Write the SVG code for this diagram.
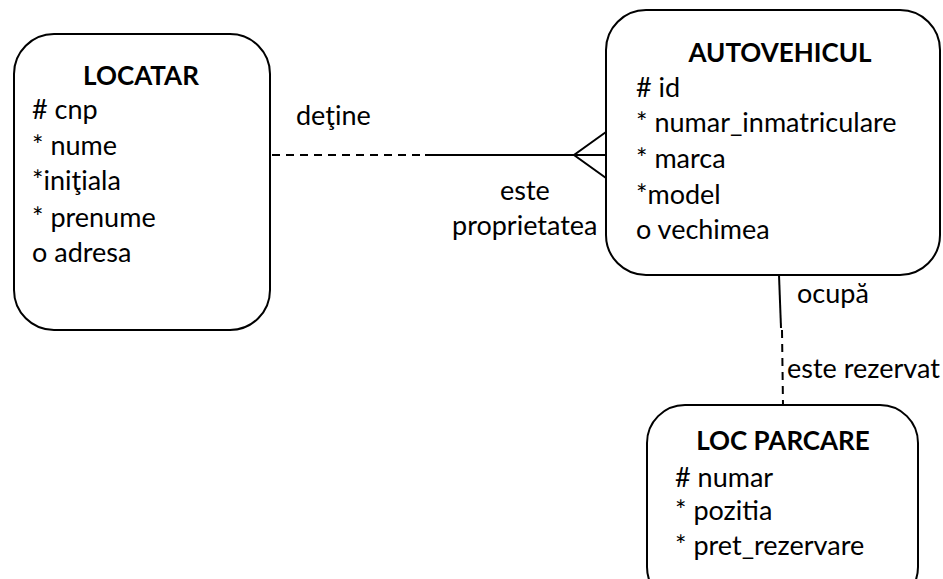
<svg xmlns="http://www.w3.org/2000/svg" width="943" height="579" viewBox="0 0 943 579">
<style>
.box{fill:#fff;stroke:#000;stroke-width:2}
text{font-family:Lato,"Open Sans",sans-serif;font-size:27px;fill:#000}
.t{font-weight:bold;text-anchor:middle;font-size:26px}
.ln{stroke:#000;stroke-width:2;fill:none}
.d{stroke-dasharray:8 6}
</style>
<rect width="943" height="579" fill="#fff"/>
<g id="connectors">
<line class="ln d" x1="272" y1="155" x2="425" y2="155"/>
<line class="ln" x1="425" y1="155" x2="606" y2="155"/>
<polyline class="ln" points="606,132 574,155 606,178"/>
<line class="ln" x1="779" y1="275" x2="781" y2="328"/>
<line class="ln d" x1="782" y1="330" x2="783" y2="405"/>
<text x="296" y="125">deţine</text>
<text x="500" y="200">este</text>
<text x="452" y="235">proprietatea</text>
<text x="797" y="303">ocupă</text>
<text x="787" y="378">este rezervat</text>
</g>
<g id="locatar">
<rect class="box" x="14" y="34" width="256" height="296" rx="40"/>
<text class="t" x="141" y="85">LOCATAR</text>
<text>
<tspan x="32" y="119"># cnp</tspan>
<tspan x="32" y="155">* nume</tspan>
<tspan x="32" y="190">*iniţiala</tspan>
<tspan x="32" y="227">* prenume</tspan>
<tspan x="32" y="262">o adresa</tspan>
</text>
</g>
<g id="autovehicul">
<rect class="box" x="606" y="10" width="334" height="265" rx="40"/>
<text class="t" x="780" y="62">AUTOVEHICUL</text>
<text>
<tspan x="636" y="97"># id</tspan>
<tspan x="636" y="132">* numar_inmatriculare</tspan>
<tspan x="636" y="168">* marca</tspan>
<tspan x="636" y="204">*model</tspan>
<tspan x="636" y="239">o vechimea</tspan>
</text>
</g>
<g id="loc-parcare">
<rect class="box" x="647" y="405" width="271" height="200" rx="38"/>
<text class="t" x="783" y="450">LOC PARCARE</text>
<text>
<tspan x="675" y="487"># numar</tspan>
<tspan x="675" y="520">* pozitia</tspan>
<tspan x="675" y="555">* pret_rezervare</tspan>
</text>
</g>
</svg>
